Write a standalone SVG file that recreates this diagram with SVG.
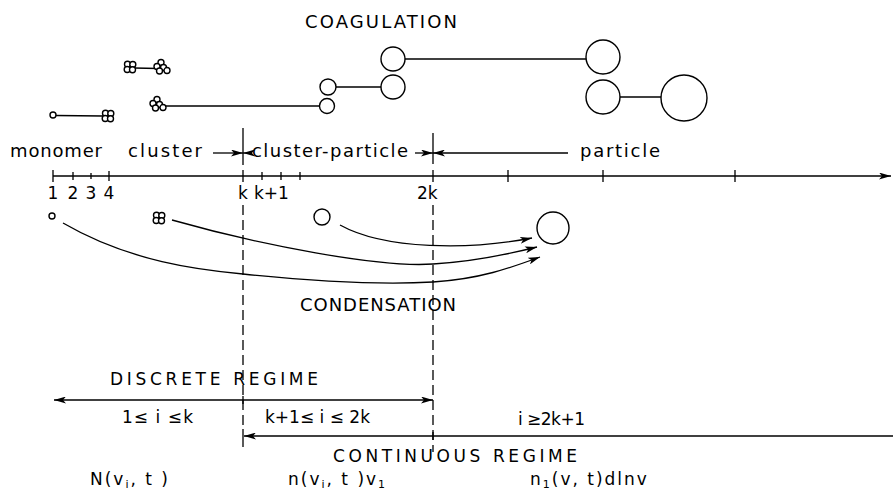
<svg xmlns="http://www.w3.org/2000/svg" xmlns:xlink="http://www.w3.org/1999/xlink" width="893" height="490" viewBox="0 0 893 490">
  <style>
    .ln { fill: none; stroke: #000; stroke-width: 1.3; }
    .dash { fill: none; stroke: #000; stroke-width: 1.3; stroke-dasharray: 10 5; }
    .pt { fill: #fff; stroke: #000; stroke-width: 1.4; }
    text { font-family: "DejaVu Sans", "Liberation Sans", sans-serif; font-size: 17px; fill: #000; }
    .big { font-size: 18px; }
    .sub { font-size: 11px; }
    .eq { letter-spacing: 2px; }
  </style>
  <defs>
    <marker id="ah" markerUnits="userSpaceOnUse" markerWidth="13" markerHeight="7" refX="12" refY="3.5" orient="auto">
      <path d="M0,0 L12,3.5 L0,7 L3,3.5 z" fill="#000"/>
    </marker>
    <marker id="ahs" markerUnits="userSpaceOnUse" markerWidth="13" markerHeight="7" refX="0" refY="3.5" orient="auto">
      <path d="M12,0 L0,3.5 L12,7 L9,3.5 z" fill="#000"/>
    </marker>
    <!-- small agglomerate of four monomers -->
    <g id="c4">
      <circle class="pt" cx="-2.5" cy="-2.8" r="3"/>
      <circle class="pt" cx="2.8" cy="-2.5" r="3"/>
      <circle class="pt" cx="-2.8" cy="2.5" r="3"/>
      <circle class="pt" cx="2.5" cy="2.8" r="3"/>
    </g>
    <!-- larger agglomerate -->
    <g id="c5">
      <circle class="pt" cx="0" cy="-4.5" r="3"/>
      <circle class="pt" cx="-4" cy="-0.5" r="3"/>
      <circle class="pt" cx="2.5" cy="0.5" r="3"/>
      <circle class="pt" cx="-1.5" cy="4" r="3"/>
      <circle class="pt" cx="6" cy="3.5" r="3"/>
    </g>
  </defs>

  <rect width="893" height="490" fill="#fff"/>

  <g id="connectors">
    <!-- coagulation links -->
    <line class="ln" x1="56" y1="115.5" x2="103" y2="116"/>
    <line class="ln" x1="134" y1="68" x2="158" y2="68.5"/>
    <line class="ln" x1="163" y1="106" x2="319" y2="106"/>
    <line class="ln" x1="335" y1="87" x2="381" y2="87"/>
    <line class="ln" x1="405" y1="59" x2="586" y2="59"/>
    <line class="ln" x1="620" y1="97" x2="661" y2="97"/>

    <!-- size axis -->
    <line class="ln" x1="53" y1="176" x2="891" y2="176" marker-end="url(#ah)"/>
    <path class="ln" d="M53,170 V182 M73,172 V180 M91,173 V179 M109,171 V181 M243,170 V182 M262,172 V180 M281,172 V180 M300,172 V180 M433,170 V182 M508,170 V182 M603,170 V182 M735,170 V182"/>

    <!-- range boundaries -->
    <line class="ln" x1="243" y1="128" x2="243" y2="165"/>
    <line class="ln" x1="433" y1="133" x2="433" y2="164"/>
    <line class="ln" x1="213" y1="153" x2="243" y2="153" marker-end="url(#ah)"/>
    <line class="ln" x1="243" y1="153" x2="250" y2="153" marker-start="url(#ahs)"/>
    <line class="ln" x1="415" y1="153" x2="433" y2="153" marker-end="url(#ah)"/>
    <line class="ln" x1="433" y1="153" x2="568" y2="153" marker-start="url(#ahs)"/>

    <!-- dashed regime borders -->
    <line class="dash" x1="243" y1="205" x2="243" y2="430"/>
    <line class="dash" x1="433" y1="205" x2="433" y2="452"/>
    <line class="ln" x1="243" y1="429" x2="243" y2="447"/>

    <!-- condensation paths -->
    <path class="ln" d="M340,225 C385,250 470,250 532,238" marker-end="url(#ah)"/>
    <path class="ln" d="M172,220 C260,245 380,268 433,264 C470,262 505,255 537,247" marker-end="url(#ah)"/>
    <path class="ln" d="M63,223 C130,262 200,270 243,274 C320,282 380,285 433,282 C480,279 510,268 540,257" marker-end="url(#ah)"/>

    <!-- regime extents -->
    <line class="ln" x1="54" y1="400" x2="433" y2="400" marker-start="url(#ahs)" marker-end="url(#ah)"/>
    <line class="ln" x1="243" y1="396" x2="243" y2="404"/>
    <line class="ln" x1="244" y1="436" x2="893" y2="436" marker-start="url(#ahs)"/>
    <line class="ln" x1="433" y1="432" x2="433" y2="440"/>
  </g>

  <g id="coagulation-particles">
    <circle class="pt" cx="53" cy="115" r="3"/>
    <use xlink:href="#c4" x="108" y="116"/>
    <use xlink:href="#c4" x="130" y="67"/>
    <use xlink:href="#c5" x="161" y="67"/>
    <use xlink:href="#c5" x="157" y="104"/>
    <circle class="pt" cx="328" cy="87" r="8"/>
    <circle class="pt" cx="327" cy="106" r="7.5"/>
    <circle class="pt" cx="393" cy="59" r="12"/>
    <circle class="pt" cx="393" cy="87" r="12"/>
    <circle class="pt" cx="603" cy="57" r="17"/>
    <circle class="pt" cx="603" cy="97" r="17"/>
    <circle class="pt" cx="684" cy="98" r="23"/>
  </g>

  <g id="condensation-particles">
    <circle class="pt" cx="52" cy="216" r="3"/>
    <use xlink:href="#c4" x="159" y="218"/>
    <circle class="pt" cx="322" cy="217" r="8"/>
    <circle class="pt" cx="553" cy="228" r="16"/>
  </g>

  <g id="labels">
    <text class="big" x="305" y="28" textLength="152" lengthAdjust="spacing">COAGULATION</text>
    <text class="big" x="10" y="157" textLength="92" lengthAdjust="spacing">monomer</text>
    <text class="big" x="128" y="157" textLength="74" lengthAdjust="spacing">cluster</text>
    <text class="big" x="252" y="157" textLength="156" lengthAdjust="spacing">cluster-particle</text>
    <text class="big" x="580" y="157" textLength="80" lengthAdjust="spacing">particle</text>
    <text x="53" y="199" text-anchor="middle">1</text>
    <text x="73" y="199" text-anchor="middle">2</text>
    <text x="91" y="199" text-anchor="middle">3</text>
    <text x="109" y="199" text-anchor="middle">4</text>
    <text x="238" y="199">k</text>
    <text x="254" y="199" font-size="16">k+1</text>
    <text x="417" y="199">2k</text>
    <text class="big" x="300" y="311" textLength="156" lengthAdjust="spacing">CONDENSATION</text>
    <text x="110" y="385" textLength="208" lengthAdjust="spacing">DISCRETE REGIME</text>
    <text x="122" y="423" textLength="71" lengthAdjust="spacing">1≤ i ≤k</text>
    <text x="265" y="423" textLength="105" lengthAdjust="spacing">k+1≤ i ≤ 2k</text>
    <text x="518" y="425" textLength="67" lengthAdjust="spacing">i ≥2k+1</text>
    <text x="333" y="462" textLength="244" lengthAdjust="spacing">CONTINUOUS REGIME</text>
    <text class="eq" x="90" y="485">N(v<tspan class="sub" dy="3">i</tspan><tspan dy="-3">, t )</tspan></text>
    <text class="eq" x="288" y="485">n(v<tspan class="sub" dy="3">i</tspan><tspan dy="-3">, t )v</tspan><tspan class="sub" dy="3">1</tspan></text>
    <text class="eq" x="530" y="485">n<tspan class="sub" dy="3">1</tspan><tspan dy="-3">(v, t)dlnv</tspan></text>
  </g>
</svg>
